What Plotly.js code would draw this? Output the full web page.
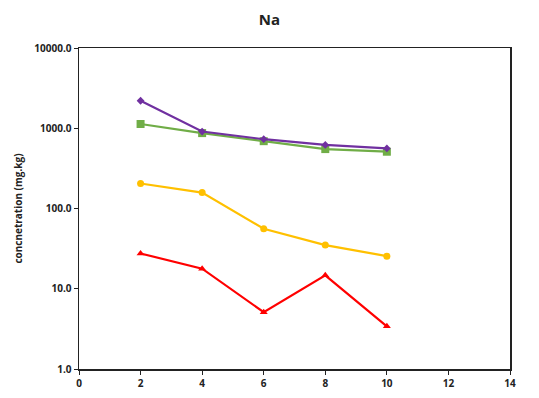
<!DOCTYPE html>
<html><head><meta charset="utf-8">
<script src="https://cdn.plot.ly/plotly-3.0.1.min.js"></script>
<style>html,body{margin:0;padding:0;background:#fff;}#c{width:539px;height:398px;}</style>
</head><body><div id="c"></div>
<script>
const xVals = [2, 4, 6, 8, 10];
const purpleVals = [2200, 910, 730, 620, 560];
const greenVals = [1130, 870, 690, 550, 510];
const yellowVals = [205, 158, 56, 35, 25.5];
const redVals = [27.5, 17.8, 5.1, 14.7, 3.4];
const yTickVals = [1, 10, 100, 1000, 10000];
const xTickVals = [0, 2, 4, 6, 8, 10, 12, 14];

function tr(y, color, symbol, size) {
  return {x: xVals, y: y, type: 'scatter', mode: 'lines+markers',
    line: {color: color, width: 2.2},
    marker: {color: color, symbol: symbol, size: size},
    showlegend: false, hoverinfo: 'skip'};
}
const data = [
  tr(redVals, '#FF0000', 'triangle-up', 7),
  tr(yellowVals, '#FFC000', 'circle', 7),
  tr(greenVals, '#70AD47', 'square', 8),
  tr(purpleVals, '#7030A0', 'diamond', 6)
];
const f = 'Open Sans, DejaVu Sans, sans-serif';
const layout = {
  width: 539, height: 398,
  margin: {l: 79, r: 29, t: 48, b: 29},
  paper_bgcolor: '#fff', plot_bgcolor: '#fff',
  title: {text: '<b>Na</b>', x: 0.5, xanchor: 'center', y: 0.95, yanchor: 'middle',
    font: {family: f, size: 15, color: '#222'}},
  xaxis: {range: [0, 14], tickvals: xTickVals, showgrid: false, zeroline: false,
    showline: true, linecolor: '#222', linewidth: 1.5, mirror: true,
    ticks: 'outside', ticklen: 4, tickcolor: '#222',
    tickfont: {family: f, size: 10, color: '#222', weight: 'bold'}},
  yaxis: {type: 'log', range: [0, 4], tickvals: yTickVals, tickformat: '.1f',
    showgrid: false, zeroline: false,
    showline: true, linecolor: '#222', linewidth: 1.5, mirror: true,
    ticks: 'outside', ticklen: 4, tickcolor: '#222',
    tickfont: {family: f, size: 10, color: '#222', weight: 'bold'},
    title: {text: '<b>concnetration (mg.kg)</b>', standoff: 10,
      font: {family: f, size: 10, color: '#222'}}}
};
Plotly.newPlot('c', data, layout, {displayModeBar: false, staticPlot: true});
</script></body></html>
